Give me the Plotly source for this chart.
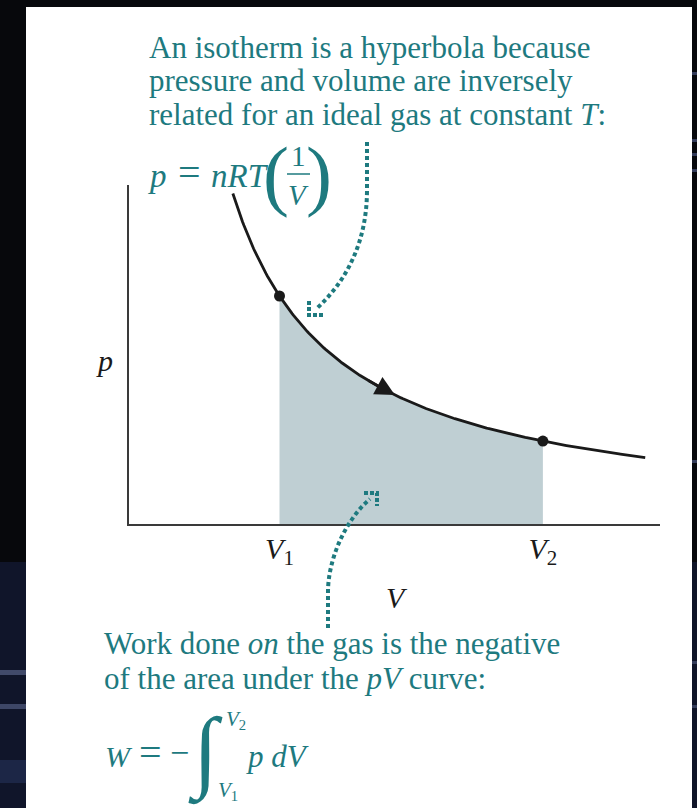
import numpy as np
import plotly.graph_objects as go

# Isotherm of an ideal gas, p = nRT / V (arbitrary units with nRT = 1)
nRT = 1.0
V_start, V_end = 0.69, 3.43          # extent of the drawn isotherm
V1, V2 = 1.0, 2.75                   # initial and final volumes
tick_vals = [V1, V2]
tick_text = ["<i>V</i><sub>1</sub>", "<i>V</i><sub>2</sub>"]
arrow_tail_V, arrow_tip_V = 1.58, 1.767   # direction arrow on the curve

curve_V = np.linspace(V_start, V_end, 300)
curve_p = nRT / curve_V
area_V = np.linspace(V1, V2, 200)
area_p = nRT / area_V
points_V = np.array([V1, V2])
points_p = nRT / points_V

TEAL = "#1e7a7f"
INK = "#1a1a1a"
SERIF = "Liberation Serif, Times New Roman, serif"

W, H = 697, 808
PL, PR, PT, PB = 129, 660, 185, 524   # plotting frame in pixels
SX, SY = 150.5, 228.0                 # pixels per unit of V and p


def px(x):
    return (x - PL) / (PR - PL)


def py(y):
    return (PB - y) / (PB - PT)


fig = go.Figure()

# area under the curve between V1 and V2
fig.add_trace(go.Scatter(
    x=area_V, y=area_p, mode="lines", fill="tozeroy",
    fillcolor="#bfcfd3", line=dict(width=0, color="#bfcfd3"),
    hoverinfo="skip", showlegend=False))

# the isotherm
fig.add_trace(go.Scatter(
    x=curve_V, y=curve_p, mode="lines",
    line=dict(color=INK, width=2.8), hoverinfo="skip", showlegend=False))

# states 1 and 2
fig.add_trace(go.Scatter(
    x=points_V, y=points_p, mode="markers",
    marker=dict(color=INK, size=11), hoverinfo="skip", showlegend=False))

shapes = []


# page background: white sheet on a dark backdrop
def rect(x0, y0, x1, y1, color):
    shapes.append(dict(type="rect", xref="paper", yref="paper",
                       x0=px(x0), x1=px(x1), y0=py(y1), y1=py(y0),
                       fillcolor=color, line=dict(width=0), layer="below"))


rect(0, 562, 26, 810, "#10152a")
rect(692, 562, 700, 810, "#0f1428")
for y0, y1, c in [(670, 675, "#414a6a"), (704, 709, "#3d4666"),
                  (760, 783, "#1c2646")]:
    rect(0, y0, 26, y1, c)
for y0, y1, c in [(72, 75, "#343c5a"), (139, 142, "#343c5a"),
                  (153, 156, "#343c5a"), (169, 172, "#343c5a"),
                  (460, 463, "#343c5a"), (661, 664, "#343c5a"),
                  (705, 708, "#343c5a")]:
    rect(692, y0, 700, y1, c)
rect(26, 7, 692, 810, "#ffffff")


def path(cmds):
    out = []
    for token in cmds:
        if isinstance(token, str):
            out.append(token)
        else:
            out.append(f"{px(token[0]):.5f},{py(token[1]):.5f}")
    return " ".join(out)


dotted = dict(color=TEAL, width=4, dash="4px,3px")
head = dict(color=TEAL, width=4, dash="4px,2px")

# dotted pointer from the upper caption to the curve
shapes.append(dict(type="path", xref="paper", yref="paper", line=dotted,
                   path=path(["M", (367, 142), "L", (367, 190), "C",
                              (367, 240), (348, 280), (316, 309)])))
shapes.append(dict(type="path", xref="paper", yref="paper", line=head,
                   path=path(["M", (309, 301), "L", (309, 315), "L", (323, 315)])))

# dotted pointer from the lower caption into the shaded area
shapes.append(dict(type="path", xref="paper", yref="paper", line=dotted,
                   path=path(["M", (328, 628), "L", (328, 592), "C",
                              (328, 560), (345, 520), (370, 499)])))
shapes.append(dict(type="path", xref="paper", yref="paper", line=head,
                   path=path(["M", (364, 493), "L", (377, 493), "L", (377, 506)])))

# fraction bar of 1/V
shapes.append(dict(type="line", xref="paper", yref="paper",
                   x0=px(287), x1=px(310), y0=py(174), y1=py(174),
                   line=dict(color=TEAL, width=1.5)))

annotations = []


def note(text, x, y, size, color=TEAL, xanchor="left", yanchor="middle"):
    annotations.append(dict(text=text, x=px(x), y=py(y), xref="paper",
                            yref="paper", showarrow=False, xanchor=xanchor,
                            yanchor=yanchor,
                            font=dict(family=SERIF, size=size, color=color)))


# upper caption
note("An isotherm is a hyperbola because", 147, 47, 31)
note("pressure and volume are inversely", 147, 81, 31)
note("related for an ideal gas at constant <i>T</i>:", 147, 115, 31)

# p = nRT (1/V)
note("<i>p</i>", 146, 176, 33)
note("=", 189, 173, 40, xanchor="center")
note("<i>nRT</i>", 209, 176, 33)
note("(", 276, 174, 78, xanchor="center")
note(")", 319, 174, 78, xanchor="center")
note("1", 298, 156, 29, xanchor="center")
note("<i>V</i>", 298, 195, 29, xanchor="center")

# axis names
note("<i>p</i>", 104, 360, 30, color=INK, xanchor="center")
note("<i>V</i>", 397, 597, 30, color=INK, xanchor="center")

# lower caption
note("Work done <i>on</i> the gas is the negative", 102, 643, 31)
note("of the area under the <i>pV</i> curve:", 102, 678, 31)

# W = -∫ p dV
note("<i>W</i>", 103, 756, 30)
note("=", 150, 752, 40, xanchor="center")
note("\u2212", 179, 752, 34, xanchor="center")
note("<i>\u222b</i>", 205, 752, 90, xanchor="center")
note("<i>V</i><sub>2</sub>", 224, 720, 21)
note("<i>V</i><sub>1</sub>", 216, 791, 21)
note("<i>p dV</i>", 244, 756, 31)

# direction of the process along the isotherm
annotations.append(dict(
    x=arrow_tip_V, y=nRT / arrow_tip_V, ax=arrow_tail_V, ay=nRT / arrow_tail_V,
    xref="x", yref="y", axref="x", ayref="y", text="", showarrow=True,
    arrowhead=2, arrowsize=1.5, arrowwidth=2.6, arrowcolor=INK, standoff=0))

fig.update_layout(
    width=W, height=H, autosize=False,
    margin=dict(l=PL, r=W - PR, t=PT, b=H - PB, pad=0),
    paper_bgcolor="#07080c", plot_bgcolor="#ffffff",
    shapes=shapes, annotations=annotations, showlegend=False,
    xaxis=dict(range=[0, (PR - PL) / SX], showgrid=False, zeroline=False,
               showline=True, linecolor="#3a3a3a", linewidth=2,
               tickvals=tick_vals, ticktext=tick_text, ticks="",
               ticklabelstandoff=-3,
               tickfont=dict(family=SERIF, size=30, color=INK)),
    yaxis=dict(range=[0, (PB - PT) / SY], showgrid=False, zeroline=False,
               showline=True, linecolor="#3a3a3a", linewidth=2,
               showticklabels=False, ticks=""),
)

fig.write_html("out.html")
